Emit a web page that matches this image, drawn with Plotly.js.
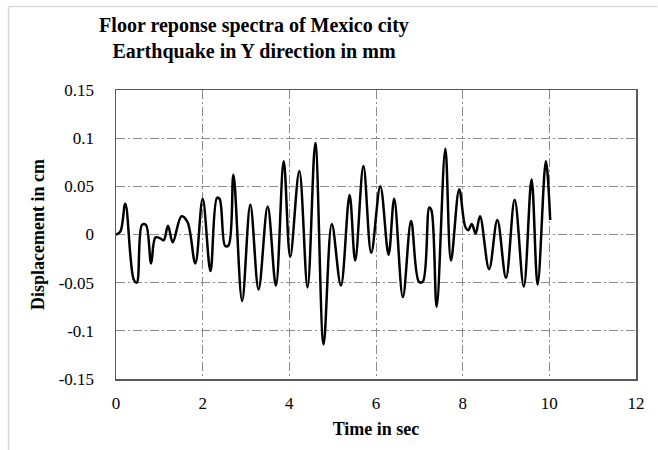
<!DOCTYPE html>
<html>
<head>
<meta charset="utf-8">
<script src="https://cdn.plot.ly/plotly-3.0.1.min.js"></script>
<style>html,body{margin:0;padding:0;background:#fff;}#chart{width:658px;height:450px;}</style>
</head>
<body>
<div id="chart"></div>
<script>
// Time (s) and displacement (cm)
var timeSec = [0, 0.10, 0.215, 0.41, 0.48, 0.60, 0.69, 0.81, 0.91, 1.02, 1.10, 1.20, 1.31, 1.51, 1.65, 1.83,
  2.00, 2.18, 2.33, 2.39, 2.52, 2.60, 2.71, 2.91, 3.10, 3.29, 3.50, 3.69, 3.87, 4.02, 4.23, 4.42, 4.60, 4.79,
  4.98, 5.19, 5.39, 5.52, 5.71, 5.89, 6.10, 6.29, 6.42, 6.62, 6.81, 6.99, 7.08, 7.23, 7.28, 7.40, 7.60, 7.73,
  7.92, 8.06, 8.13, 8.21, 8.30, 8.40, 8.61, 8.80, 9.00, 9.20, 9.41, 9.59, 9.73, 9.92, 10.02];
var displacement = [0, 0.003, 0.032, -0.047, -0.050, 0.010, 0.010, -0.030, -0.003, -0.004, -0.006, 0.009, -0.008, 0.019, 0.013, -0.030,
  0.037, -0.038, 0.038, 0.037, -0.012, -0.011, 0.062, -0.069, 0.031, -0.057, 0.029, -0.053, 0.076, -0.023, 0.066, -0.055, 0.095, -0.114,
  0.011, -0.053, 0.041, -0.027, 0.071, -0.019, 0.050, -0.021, 0.037, -0.065, 0.014, -0.049, -0.049, 0.028, 0.025, -0.075, 0.089, -0.027,
  0.047, 0.008, 0.0045, 0.011, 0.001, 0.019, -0.036, 0.015, -0.045, 0.036, -0.054, 0.057, -0.052, 0.076, 0.015];
var yTickVals = [0.15, 0.1, 0.05, 0, -0.05, -0.1, -0.15];
var yTickText = ['0.15', '0.1', '0.05', '0', '-0.05', '-0.1', '-0.15'];
var titleText = 'Floor reponse spectra of Mexico city<br>Earthquake in Y direction in mm';
var xTitle = 'Time in sec';
var yTitle = 'Displacement in cm';

var serif = 'Liberation Serif, Times New Roman, serif';
var trace = {
  x: timeSec, y: displacement, type: 'scatter', mode: 'lines',
  line: {color: '#000000', width: 2.5, shape: 'spline', smoothing: 1},
  hoverinfo: 'x+y', showlegend: false
};
var gridDash = '9px,3px,2px,3px';
var layout = {
  width: 658, height: 450,
  margin: {l: 116, r: 22, t: 90, b: 71},
  paper_bgcolor: '#ffffff', plot_bgcolor: '#ffffff',
  title: {
    text: titleText, x: 0.386, xref: 'container', xanchor: 'center',
    y: 1 - 32/450, yref: 'container', yanchor: 'top',
    font: {family: serif, size: 20, color: '#000', weight: 700}
  },
  xaxis: {
    range: [0, 12], dtick: 2, tick0: 0,
    showline: true, linecolor: '#595959', linewidth: 1.5, mirror: true,
    showgrid: true, gridcolor: '#8c8c8c', gridwidth: 1, griddash: gridDash,
    zeroline: false, ticks: '', ticklabelstandoff: 8,
    tickfont: {family: serif, size: 17, color: '#000'},
    title: {text: xTitle, font: {family: serif, size: 18, color: '#000', weight: 700}, standoff: 10}
  },
  yaxis: {
    range: [-0.15, 0.15], tickvals: yTickVals, ticktext: yTickText,
    showline: true, linecolor: '#595959', linewidth: 1.5, mirror: true,
    showgrid: true, gridcolor: '#8c8c8c', gridwidth: 1, griddash: gridDash,
    zeroline: false, ticks: '', ticklabelstandoff: 17,
    tickfont: {family: serif, size: 17, color: '#000'},
    title: {text: yTitle, font: {family: serif, size: 18, color: '#000', weight: 700}, standoff: 9}
  },
  shapes: [
    {type: 'line', xref: 'paper', yref: 'paper', x0: -0.2067, x1: 1.0404, y0: 1.2889, y1: 1.2889, line: {color: '#d9d9d9', width: 1.5}},
    {type: 'line', xref: 'paper', yref: 'paper', x0: -0.2067, x1: -0.2067, y0: 1.2889, y1: -0.2457, line: {color: '#d9d9d9', width: 1.5}}
  ]
};
Plotly.newPlot('chart', [trace], layout, {displayModeBar: false, staticPlot: true});
</script>
</body>
</html>
